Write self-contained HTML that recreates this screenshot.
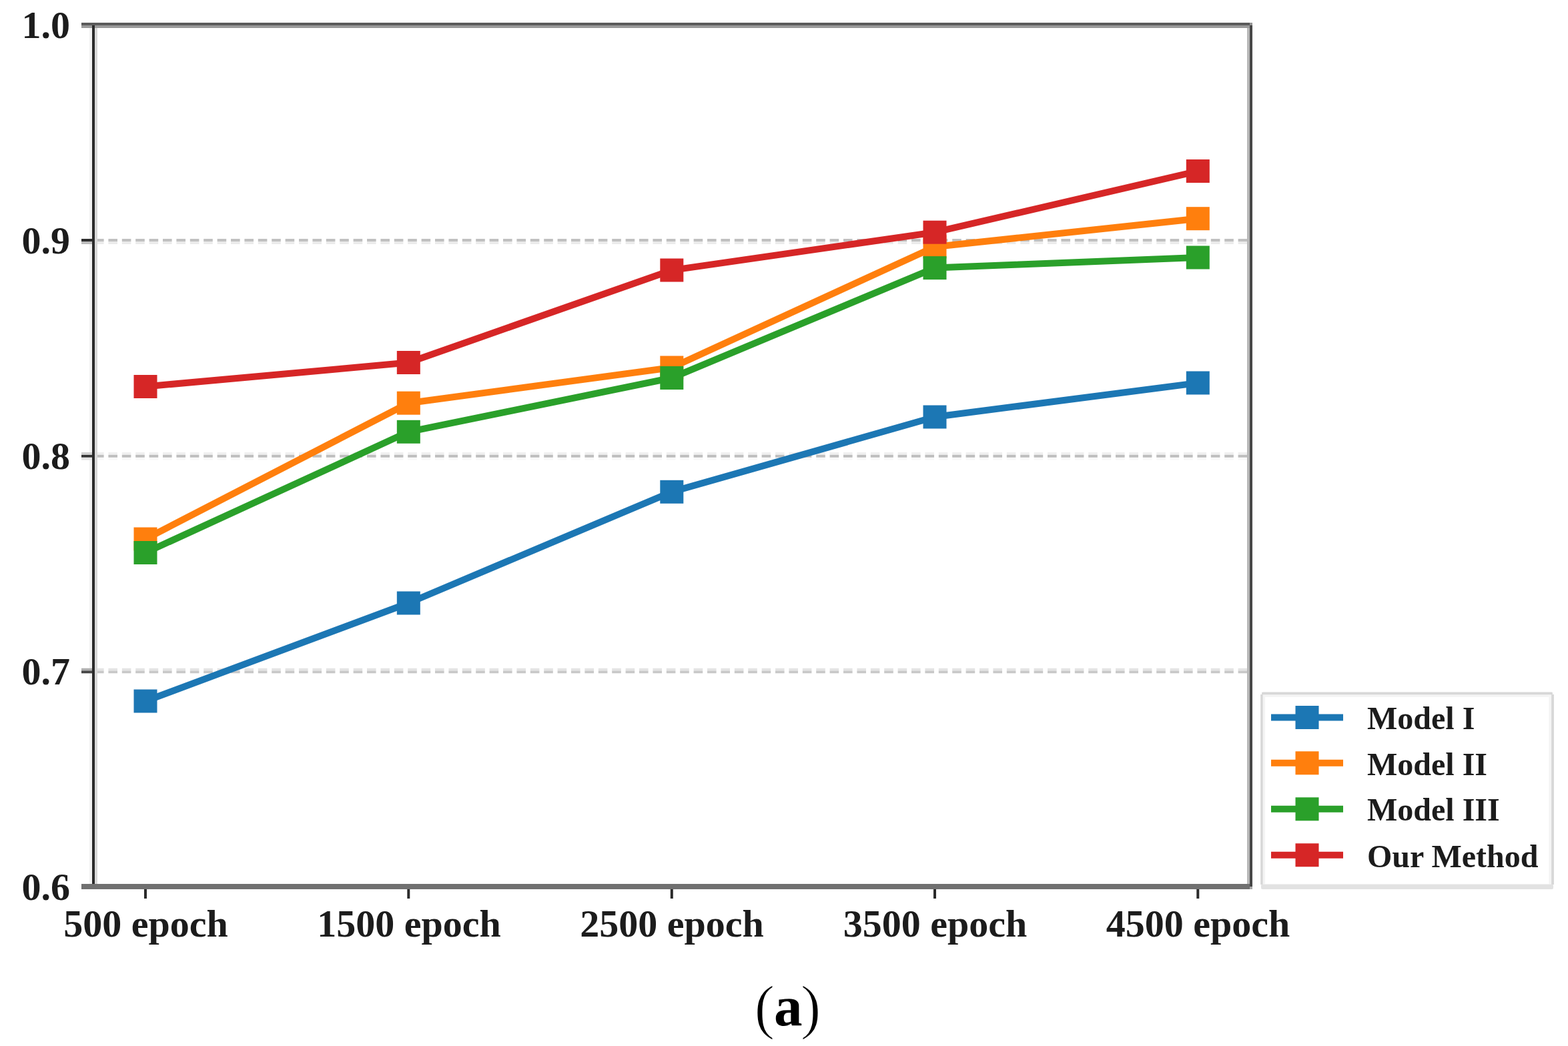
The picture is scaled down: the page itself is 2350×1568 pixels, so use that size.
<!DOCTYPE html>
<html>
<head>
<meta charset="utf-8">
<style>
html,body{margin:0;padding:0;background:#fff;}
body{width:2350px;height:1568px;overflow:hidden;}
svg{display:block;}
.t{font-family:"Liberation Serif","Times New Roman",serif;font-weight:bold;fill:#1a1a1a;}
</style>
</head>
<body>
<svg width="2350" height="1568" viewBox="0 0 2350 1568">
<rect width="2350" height="1568" fill="#fff"/>
<defs><filter id="soft" x="-2%" y="-2%" width="104%" height="104%"><feGaussianBlur stdDeviation="0.5"/></filter></defs>
<g filter="url(#soft)">

<!-- grid lines -->
<g stroke-dasharray="13.6 6.8">
<line x1="142" y1="360" x2="1870" y2="360" stroke="#c0c0c0" stroke-width="4"/>
<line x1="142" y1="364" x2="1870" y2="364" stroke="#ebebeb" stroke-width="4"/>
<line x1="142" y1="679.8" x2="1870" y2="679.8" stroke="#f0f0f0" stroke-width="3.5"/>
<line x1="142" y1="683.7" x2="1870" y2="683.7" stroke="#bebebe" stroke-width="4"/>
<line x1="142" y1="688" x2="1870" y2="688" stroke="#f8f8f8" stroke-width="3"/>
<line x1="142" y1="1003.7" x2="1870" y2="1003.7" stroke="#e4e4e4" stroke-width="3.8"/>
<line x1="142" y1="1007.4" x2="1870" y2="1007.4" stroke="#c8c8c8" stroke-width="3.6"/>
</g>
<!-- series -->
<polyline fill="none" stroke="#1f77b4" stroke-width="10" stroke-linejoin="round" points="218,1051 612.3,904 1006.8,737.3 1401,625 1795.3,574"/>
<g fill="#1f77b4"><rect x="200.5" y="1033.5" width="35" height="35"/><rect x="594.8" y="886.5" width="35" height="35"/><rect x="989.3" y="719.8" width="35" height="35"/><rect x="1383.5" y="607.5" width="35" height="35"/><rect x="1777.8" y="556.5" width="35" height="35"/></g>
<polyline fill="none" stroke="#ff7f0e" stroke-width="10" stroke-linejoin="round" points="218,808 612.3,604.2 1006.8,551 1401,370 1795.3,327.7"/>
<g fill="#ff7f0e"><rect x="200.5" y="790.5" width="35" height="35"/><rect x="594.8" y="586.7" width="35" height="35"/><rect x="989.3" y="533.5" width="35" height="35"/><rect x="1383.5" y="352.5" width="35" height="35"/><rect x="1777.8" y="310.2" width="35" height="35"/></g>
<polyline fill="none" stroke="#2ca02c" stroke-width="10" stroke-linejoin="round" points="218,828.5 612.3,647.3 1006.8,566.5 1401,401.6 1795.3,386"/>
<g fill="#2ca02c"><rect x="200.5" y="811" width="35" height="35"/><rect x="594.8" y="629.8" width="35" height="35"/><rect x="989.3" y="549" width="35" height="35"/><rect x="1383.5" y="384.1" width="35" height="35"/><rect x="1777.8" y="368.5" width="35" height="35"/></g>
<polyline fill="none" stroke="#d62728" stroke-width="10" stroke-linejoin="round" points="218,579.5 612.3,543.5 1006.8,405 1401,348.2 1795.3,256.5"/>
<g fill="#d62728"><rect x="200.5" y="562" width="35" height="35"/><rect x="594.8" y="526" width="35" height="35"/><rect x="989.3" y="387.5" width="35" height="35"/><rect x="1383.5" y="330.7" width="35" height="35"/><rect x="1777.8" y="239" width="35" height="35"/></g>
<!-- spines -->
<rect x="134" y="38" width="4" height="1291" fill="#f2f2f2"/>
<rect x="142" y="42" width="4" height="1283" fill="#d8d8d8"/>
<rect x="122" y="34" width="1751" height="4" fill="#5a5a5a"/>
<rect x="1873" y="34" width="4" height="4" fill="#959595"/>
<rect x="122" y="38" width="1751" height="4" fill="#999"/>
<rect x="138" y="38" width="4" height="1291" fill="#2a2a2a"/>
<rect x="1869" y="42" width="4" height="1283" fill="#b8b8b8"/>
<rect x="1873" y="38" width="4" height="1291" fill="#464646"/>
<rect x="122" y="1325" width="1751" height="8" fill="#707070"/>
<rect x="1873" y="1329" width="4" height="4" fill="#aaa"/>
<!-- y ticks -->
<rect x="122" y="358" width="16" height="4" fill="#2d2d2d"/>
<rect x="122" y="362" width="16" height="4" fill="#bdbdbd"/>
<rect x="122" y="678" width="16" height="3.9" fill="#d0d0d0"/>
<rect x="122" y="681.9" width="16" height="3.9" fill="#333"/>
<rect x="122" y="685.8" width="16" height="3.9" fill="#e5e5e5"/>
<rect x="122" y="1001.7" width="16" height="3.7" fill="#b0b0b0"/>
<rect x="122" y="1005.4" width="16" height="3.9" fill="#444"/>
<!-- x ticks -->
<g fill="#2a2a2a">
<rect x="216" y="1333" width="4" height="14"/>
<rect x="610.3" y="1333" width="4" height="14"/>
<rect x="1004.8" y="1333" width="4" height="14"/>
<rect x="1399" y="1333" width="4" height="14"/>
<rect x="1793.3" y="1333" width="4" height="14"/>
</g>
<!-- y tick labels -->
<g class="t" font-size="58" text-anchor="end">
<text x="105" y="57">1.0</text>
<text x="105" y="380">0.9</text>
<text x="105" y="703">0.8</text>
<text x="105" y="1026">0.7</text>
<text x="105" y="1349">0.6</text>
</g>
<!-- x tick labels -->
<g class="t" font-size="58" text-anchor="middle">
<text x="218.5" y="1404">500 epoch</text>
<text x="613" y="1404">1500 epoch</text>
<text x="1007" y="1404">2500 epoch</text>
<text x="1401.5" y="1404">3500 epoch</text>
<text x="1795.5" y="1404">4500 epoch</text>
</g>
<!-- legend -->
<rect x="1891" y="1040" width="434" height="287" fill="#fff"/>
<g fill="#f4f4f4">
<rect x="1892.7" y="1041.2" width="3.5" height="284"/>
<rect x="1892.7" y="1041.2" width="428.3" height="3.8"/>
<rect x="2321.3" y="1041.2" width="3.8" height="284"/>
</g>
<g fill="#d7d7d7">
<rect x="1889.2" y="1041" width="3.5" height="285"/>
<rect x="1891" y="1037.6" width="436" height="3.6" rx="1.5"/>
<rect x="2325.1" y="1041" width="3.8" height="285"/>
</g>
<rect x="1890" y="1325.4" width="438" height="7.5" fill="#e2e2e2" rx="2"/>
<line x1="1905" y1="1075.5" x2="2013" y2="1075.5" stroke="#1f77b4" stroke-width="10"/>
<rect x="1941.5" y="1058" width="35" height="35" fill="#1f77b4"/>
<line x1="1905" y1="1143.8" x2="2013" y2="1143.8" stroke="#ff7f0e" stroke-width="10"/>
<rect x="1941.5" y="1126.3" width="35" height="35" fill="#ff7f0e"/>
<line x1="1905" y1="1212.8" x2="2013" y2="1212.8" stroke="#2ca02c" stroke-width="10"/>
<rect x="1941.5" y="1195.3" width="35" height="35" fill="#2ca02c"/>
<line x1="1905" y1="1281.8" x2="2013" y2="1281.8" stroke="#d62728" stroke-width="10"/>
<rect x="1941.5" y="1264.3" width="35" height="35" fill="#d62728"/>
<g class="t" font-size="48">
<text x="2049" y="1093">Model I</text>
<text x="2049" y="1161.5">Model II</text>
<text x="2049" y="1229.8">Model III</text>
<text x="2049" y="1300">Our Method</text>
</g>
</g>
<!-- caption -->
<g font-family="'Liberation Serif','Times New Roman',serif" font-size="85" fill="#000">
<text x="1130.6" y="1539.7" font-size="92" stroke="#fff" stroke-width="1.5">(</text>
<text x="1160" y="1537" font-weight="bold">a</text>
<text x="1199.7" y="1539.7" font-size="92" stroke="#fff" stroke-width="1.5">)</text>
</g>
</svg>
</body>
</html>
